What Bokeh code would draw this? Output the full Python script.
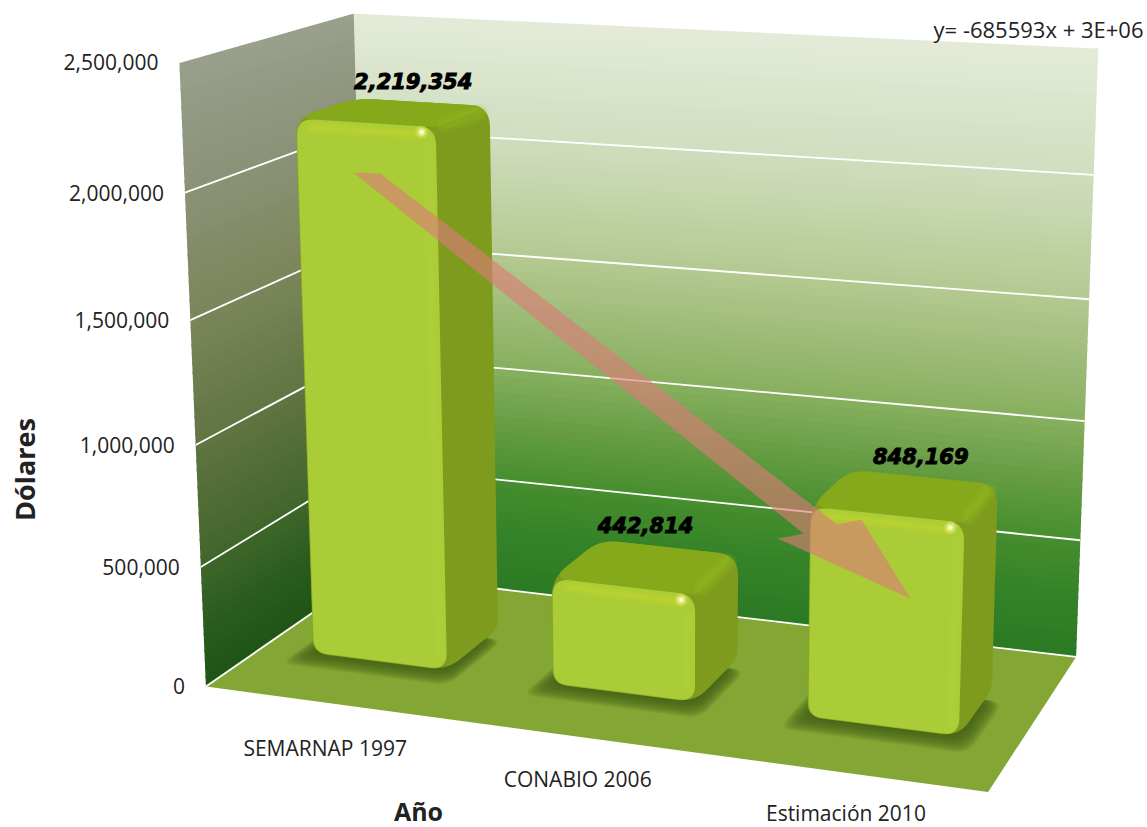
import numpy as np
from bokeh.plotting import figure
from bokeh.models import Range1d
from bokeh.core.properties import value
from bokeh.embed import file_html
from bokeh.resources import INLINE

# ---------- data ----------
categories = ["SEMARNAP 1997", "CONABIO 2006", "Estimación 2010"]
values = [2219354, 442814, 848169]
value_labels = ["2,219,354", "442,814", "848,169"]
ticks = [0, 500000, 1000000, 1500000, 2000000, 2500000]
tick_labels = ["0", "500,000", "1,000,000", "1,500,000", "2,000,000", "2,500,000"]
y_title = "Dólares"
x_title = "Año"
trend_label = "y= -685593x + 3E+06"
trend_x = [0.172, 0.867]           # hand-drawn arrow, position along the category axis
trend_values = [2032072, 542819]   # hand-drawn arrow, value at its ends

# ---------- layout / projection ----------
W, H = 1147, 827
YMAX = 2500000
world = [(0,0,0),(1,0,0),(0,0,1),(1,0,1),(0,1,0),(0,1,1),(1,1,1)]
screen = [(204,686),(988,791),(370,573),(1075,657),(180,62),(352,12),(1098,47)]
A, b = [], []
for (X,Y,Z),(u,v) in zip(world, screen):
    A.append([X,Y,Z,1,0,0,0,0,-u*X,-u*Y,-u*Z]); b.append(u)
    A.append([0,0,0,0,X,Y,Z,1,-v*X,-v*Y,-v*Z]); b.append(v)
h = np.linalg.lstsq(np.array(A,float), np.array(b,float), rcond=None)[0]
P = np.append(h, 1).reshape(3,4)

def proj(X, val, Z):
    q = P @ np.array([X, val/YMAX, Z, 1.0])
    return q[:2]/q[2]

def rounded(points, radii):
    pts = [np.array(p,float) for p in points]
    n = len(pts)
    if np.isscalar(radii): radii = [radii]*n
    xs, ys = [], []
    for i in range(n):
        p_, a, c = pts[i], pts[i-1], pts[(i+1)%n]
        r = radii[i]
        d1 = (a-p_)/np.linalg.norm(a-p_); d2 = (c-p_)/np.linalg.norm(c-p_)
        s = p_+d1*r; e = p_+d2*r
        for t in np.linspace(0,1,8):
            q = (1-t)**2*s+2*t*(1-t)*p_+t**2*e
            xs.append(q[0]); ys.append(q[1])
    return xs, ys

def lerp_stops(stops, t):
    pos = [s[0] for s in stops]
    rgb = [np.interp(t, pos, [s[1][k] for s in stops]) for k in range(3)]
    return "#%02x%02x%02x" % tuple(int(round(c)) for c in rgb)

back_stops = [(0,(43,122,36)),(.1,(52,130,40)),(.2,(70,142,46)),(.3,(103,157,68)),(.4,(135,175,95)),
              (.6,(180,201,145)),(.8,(208,221,190)),(1,(228,236,217))]
left_stops = [(0,(30,84,22)),(.1,(42,92,30)),(.2,(64,102,42)),(.4,(97,116,66)),(.6,(122,134,90)),
              (.8,(138,146,118)),(1,(153,159,140))]
FLOOR = "#83a634"; FRONT = "#a9cc37"; TOP = "#86a81b"; RIGHT = "#7e9b1d"

p = figure(width=W, height=H, x_range=Range1d(0, W), y_range=Range1d(H, 0),
           output_backend="svg", toolbar_location=None, min_border=0,
           x_axis_type=None, y_axis_type=None, outline_line_color=None, background_fill_color="white")
p.grid.visible = False

# ---------- walls ----------
N = 70
lev = np.linspace(0, YMAX, N+1)
for Z0, X0, Z1, X1, stops in [(1,0,1,1,back_stops), (0,0,1,0,left_stops)]:
    xs, ys, cols = [], [], []
    for i in range(N):
        a = proj(X0, lev[i], Z0); c = proj(X1, lev[i], Z1)
        top = min(lev[i+1]+YMAX*0.004, YMAX)
        d = proj(X1, top, Z1); e = proj(X0, top, Z0)
        xs.append([a[0],c[0],d[0],e[0]]); ys.append([a[1],c[1],d[1],e[1]])
        cols.append(lerp_stops(stops, (lev[i]+lev[i+1])/2/YMAX))
    p.patches(xs, ys, fill_color=cols, line_color=None)

fl = [proj(0,0,0), proj(1,0,0), proj(1,0,1), proj(0,0,1)]
p.patch([q[0] for q in fl], [q[1] for q in fl], fill_color=FLOOR, line_color=None)

# ---------- grid ----------
gx, gy = [], []
for t in ticks:
    a, c, d = proj(0,t,0), proj(0,t,1), proj(1,t,1)
    gx.append([a[0],c[0],d[0]]); gy.append([a[1],c[1],d[1]])
p.multi_line(gx, gy, line_color="white", line_width=1.8)

# ---------- bars ----------
HW = 0.094; SHIFT = -0.001; Z_F = 0.33; Z_B = 0.68

def line(a, c, color, width, alpha):
    p.line([a[0],c[0]],[a[1],c[1]], line_color=color, line_width=width, line_alpha=alpha, line_cap="round")

label_off = [(-9,-21),(-23.5,-22),(-3,-21)]
label_pts = []
for i, v in enumerate(values):
    cx = (i+.5)/len(values)+SHIFT
    x0, x1 = cx-HW, cx+HW
    # soft shadow on the floor
    for m in np.linspace(0.024, 0.002, 11):
        c = [proj(x0-m*.9,0,Z_F-m*4.4), proj(x1+m*1.0,0,Z_F-m*4.4), proj(x1+m*1.0,0,Z_B-.08), proj(x0-m*.9,0,Z_B-.08)]
        sx, sy = rounded(c, 14)
        p.patch(sx, sy, fill_color="#3f5a16", fill_alpha=0.14, line_color=None)
    FLb, FRb, BRb, BLb = proj(x0,0,Z_F), proj(x1,0,Z_F), proj(x1,0,Z_B), proj(x0,0,Z_B)
    FLt, FRt, BRt, BLt = proj(x0,v,Z_F), proj(x1,v,Z_F), proj(x1,v,Z_B), proj(x0,v,Z_B)
    # silhouette
    sx, sy = rounded([FLb,FRb,BRb,BRt,BLt,FLt], [14,17,10,20,18,18])
    p.patch(sx, sy, fill_color=RIGHT, line_color=None)
    # top face
    sx, sy = rounded([FLt,FRt,BRt,BLt], [18,4,20,18])
    p.patch(sx, sy, fill_color=TOP, line_color=None)
    # rim between top and right faces
    s = FRt+(BRt-FRt)*.22+np.array([-3,2]); e = BRt+np.array([-10,7])
    for wd, al in [(18,.10),(14,.14),(9,.18)]:
        line(s, e, "#98c020", wd, al)
    # front face
    sx, sy = rounded([FLb,FRb,FRt,FLt], [14,17,18,18])
    p.patch(sx, sy, fill_color=FRONT, line_color=None)
    # bevels on the front face
    s = FRt+np.array([-8,20]); e = FRb+np.array([-8,-14])
    for wd, al in [(16,.10),(11,.12),(6,.14)]:
        line(s, e, "#b8d83e", wd, al)
    s = FLt+np.array([16,9]); e = FRt+np.array([-16,7])
    for wd, al in [(14,.14),(9,.20),(4,.28)]:
        line(s, e, "#c8d62c", wd, al)
    # thin darker rim on the left and the bottom
    lx, ly = rounded([FLb,FRb,FRt,FLt], [14,17,18,18])
    q = len(lx)//4
    p.line(lx[q*3+4:]+lx[:q+2], ly[q*3+4:]+ly[:q+2], line_color="#7f9e20", line_width=1.2, line_alpha=.45)
    # specular point
    hx, hy = FRt[0]-14, FRt[1]+5
    p.scatter([hx],[hy], size=13, fill_color="#e8ee70", fill_alpha=.35, line_color=None)
    p.scatter([hx],[hy], size=8, fill_color="#f6f7a0", fill_alpha=.6, line_color=None)
    p.scatter([hx],[hy], size=4, fill_color="#fffde0", line_color=None)
    be = (BLt+BRt)/2 + np.array(label_off[i])
    label_pts.append(be)

# ---------- trend arrow ----------
s = proj(trend_x[0], trend_values[0], .3)
t = proj(trend_x[1], trend_values[1], .3)
d = (t-s)/np.linalg.norm(t-s); n = np.array([-d[1], d[0]])
arrow = [s+d*-10.2+n*8, s+d*11.6+n*-7.8, t+d*-103+n*-13.2, t+d*-87.3+n*-32, t,
         t+d*-141.6+n*34.7, t+d*-124+n*14.7]
ax = [q[0] for q in arrow]; ay = [q[1] for q in arrow]
p.patch(ax, ay, fill_color="#dd7a77", fill_alpha=0.62, line_color=None)

# ---------- texts ----------
SANS = value("Open Sans")
tx = [proj(0,t_,0)[0]-21 for t_ in ticks]; ty = [proj(0,t_,0)[1] for t_ in ticks]
p.text(tx, ty, text=tick_labels, text_font=SANS, text_font_size="21px", text_align="right",
       text_baseline="middle", text_color="#222222")
cat_off = [(-1,45),(-0.5,42),(-1,40)]
cx_ = [proj((i+.5)/3,0,0)[0]+cat_off[i][0] for i in range(3)]
cy_ = [proj((i+.5)/3,0,0)[1]+cat_off[i][1] for i in range(3)]
p.text(cx_, cy_, text=categories, text_font=SANS, text_font_size="21px", text_align="center",
       text_baseline="middle", text_color="#222222")
p.text([q[0] for q in label_pts], [q[1] for q in label_pts], text=value_labels, text_font=value("DejaVu Sans"),
       text_font_size="21px", text_font_style="bold italic", text_align="center", text_baseline="middle",
       text_color="black", text_outline_color="black")
p.text([24],[469], text=[y_title], text_font=SANS, text_font_size="27px", text_font_style="bold",
       angle=np.pi/2, text_align="center", text_baseline="middle", text_color="#222222")
p.text([418],[810], text=[x_title], text_font=SANS, text_font_size="25px", text_font_style="bold",
       text_align="center", text_baseline="middle", text_color="#222222")
p.text([1143],[28], text=[trend_label], text_font=SANS, text_font_size="22px", text_align="right",
       text_baseline="middle", text_color="#222222")

open("out.html", "w").write(file_html(p, INLINE))
